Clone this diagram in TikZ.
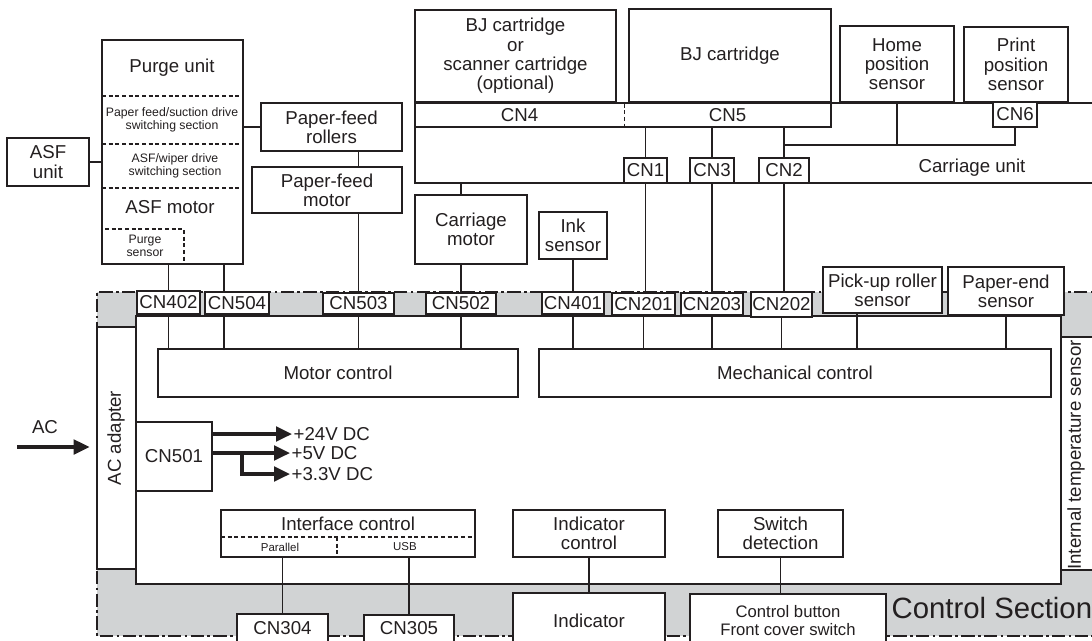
\documentclass[tikz,border=0pt]{standalone}
\usepackage{fontspec}
\setmainfont{Liberation Sans}
\usetikzlibrary{arrows.meta}
\definecolor{ink}{RGB}{35,31,32}
\definecolor{band}{RGB}{209,211,212}
\newcommand\mainf{\fontsize{14}{14.5}\selectfont}
\newcommand\smallf{\fontsize{9.2}{10}\selectfont}
\newcommand\tinyf{\fontsize{8.6}{9}\selectfont}
\newcommand\bigf{\fontsize{22}{24}\selectfont}
\newcommand\btnf{\fontsize{12.5}{13.5}\selectfont}
\newcommand\bx[6][]{\node[box,#1,minimum width={(#4-#2)*0.75pt},minimum height={(#5-#3)*0.75pt}] (#6) at ({(#2+#4)/2},{(#3+#5)/2})}
\tikzset{
  box/.style={draw=ink, line width=1.1pt, fill=white, inner sep=0.5pt, align=center, text=ink, font=\mainf},
  lbl/.style={inner sep=1pt, align=center, text=ink, font=\mainf},
  wire/.style={draw=ink, line width=0.95pt},
  pwr/.style={draw=ink, line width=2.4pt, -{Triangle[length=12pt,width=11pt]}},
  dsh/.style={draw=ink, line width=0.9pt, dash pattern=on 3pt off 2pt},
  frame/.style={draw=ink, line width=1.7pt, dash pattern=on 10pt off 2.5pt on 2pt off 2.5pt},
}
\begin{document}
\begin{tikzpicture}[x=0.75pt,y=-0.75pt]
\useasboundingbox (0,0) rectangle (1092,640);
\clip (0,0) rectangle (1092,640);
% control section frame
\path[fill=band] (97,292) rectangle (1110,636);
\draw[frame] (1110,292) -- (97,292) -- (97,636) -- (1110,636);
\draw[draw=ink, line width=1.8pt, fill=white] (136,316) rectangle (1061,584);
% upper blocks
\bx{7}{138}{89}{186}{asf} {ASF\\unit};
\bx{102}{40}{243}{264}{purge} {};
\node[lbl] (purgelbl) at (172,68) {Purge unit};
\node[lbl,font=\smallf] (pfsw) at (172,120) {Paper feed/suction drive\\switching section};
\node[lbl,font=\smallf] (asfsw) at (175,166) {ASF/wiper drive\\switching section};
\node[lbl] (asfmot) at (170,207) {ASF motor};
\node[lbl,font=\smallf] (purgesens) at (145,246) {Purge\\sensor};
\draw[dsh] (102,96) -- (243,96);
\draw[dsh] (102,144) -- (243,144);
\draw[dsh] (102,188) -- (243,188);
\draw[dsh] (105,229) -- (184,229) -- (184,264);
\bx{261}{103}{402}{151}{rollers} {Paper-feed\\rollers};
\bx{252}{167}{402}{213}{pfmotor} {Paper-feed\\motor};
\bx{415}{103}{1110}{183}{carriage} {};
\node[lbl] (carrlbl) at (972,168) {Carriage unit};
\bx{415}{10}{616}{102}{bjopt} {BJ cartridge\\or\\scanner cartridge\\(optional)};
\bx{629}{9}{831}{102}{bj} {BJ cartridge};
\bx{415}{103}{831}{127}{cnstrip} {};
\bx[draw=none,fill=none]{415}{103}{624}{127}{cn4} {CN4};
\bx[draw=none,fill=none]{624}{103}{831}{127}{cn5} {CN5};
\draw[dsh] ([yshift=-1pt]cn4.north east) -- ([yshift=1pt]cn4.south east);
\bx{840}{26}{954}{102}{home} {Home\\position\\sensor};
\bx{964}{27}{1068}{102}{printpos} {Print\\position\\sensor};
\bx{993}{102}{1037}{127}{cn6} {CN6};
\bx{624}{158}{667}{183}{cn1} {CN1};
\bx{690}{158}{734}{183}{cn3} {CN3};
\bx{759}{158}{809}{183}{cn2} {CN2};
\bx{415}{195}{527}{264}{cmotor} {Carriage\\motor};
\bx{539}{212}{607}{259}{ink} {Ink\\sensor};
% connector row
\bx{137}{291}{200}{314}{cn402} {CN402};
\bx{205}{292}{269}{314}{cn504} {CN504};
\bx{323}{293}{394}{314}{cn503} {CN503};
\bx{426}{293}{496}{314}{cn502} {CN502};
\bx{542}{292}{604}{314}{cn401} {CN401};
\bx{612}{293}{675}{315}{cn201} {CN201};
\bx{681}{293}{743}{315}{cn203} {CN203};
\bx[line width=1.5pt]{751}{292}{812}{317}{cn202} {CN202};
\bx{823}{267}{942}{313}{pickup} {Pick-up roller\\sensor};
\bx{948}{267}{1064}{315}{paperend} {Paper-end\\sensor};
% inside control section
\bx{97}{327}{136}{569}{acadapt} {};
\node[lbl,rotate=90] (acadlbl) at (116,438) {AC adapter};
\bx{1061}{337}{1110}{570}{tempstrip} {};
\node[lbl,rotate=90] (templbl) at (1076,455) {Internal temperature sensor};
\bx{158}{349}{518}{397}{motorctl} {Motor control};
\bx{539}{349}{1051}{397}{mechctl} {Mechanical control};
\bx{136}{422}{212}{491}{cn501} {CN501};
\node[lbl,anchor=west] (v24) at (292,434) {+24V DC};
\node[lbl,anchor=west] (v5) at (290,453) {+5V DC};
\node[lbl,anchor=west] (v33) at (290,474) {+3.3V DC};
\bx{221}{510}{475}{557}{ifctl} {};
\node[lbl] (iflbl) at (348,524) {Interface control};
\node[lbl,font=\tinyf] (par) at (280,547) {Parallel};
\node[lbl,font=\tinyf] (usb) at (405,547) {USB};
\draw[dsh] (221,537) -- (475,537);
\draw[dsh] (337,537) -- (337,557);
\bx{513}{510}{665}{557}{indctl} {Indicator\\control};
\bx{718}{510}{843}{557}{swdet} {Switch\\detection};
\bx{513}{593}{665}{648}{indic} {Indicator};
\bx[font=\btnf]{690}{594}{886}{648}{ctlbtn} {Control button\\Front cover switch};
\bx{237}{614}{328}{642}{cn304} {CN304};
\bx{364}{615}{454}{642}{cn305} {CN305};
\node[lbl,font=\bigf,anchor=west] (ctlsec) at (890,608) {Control Section};
\node[lbl] (aclbl) at (45,427) {AC};
\coordinate (acin) at (17,447);
% connectors
\coordinate (x504) at (224,0);
\coordinate (xpu) at (857,0);
\coordinate (bus) at (0,145);
\coordinate (br) at (242,453);
\draw[wire] (asf.east) -- (asf.east -| purge.west);
\draw[wire] (rollers.west -| purge.east) -- (rollers.west);
\draw[wire] (rollers.south -| cn503) -- (pfmotor.north -| cn503);
\draw[wire] (pfmotor.south -| cn503) -- (cn503.north);
\draw[wire] (purge.south -| cn402) -- (cn402.north);
\draw[wire] (purge.south -| x504) -- (cn504.north -| x504);
\draw[wire] (cn402.south) -- (motorctl.north -| cn402);
\draw[wire] (cn504.south -| x504) -- (motorctl.north -| x504);
\draw[wire] (cn503.south) -- (motorctl.north -| cn503);
\draw[wire] (cn502.south) -- (motorctl.north -| cn502);
\draw[wire] (carriage.south -| cn502) -- (cmotor.north -| cn502);
\draw[wire] (cmotor.south -| cn502) -- (cn502.north);
\draw[wire] (ink.south -| cn401) -- (cn401.north);
\draw[wire] (cnstrip.south -| cn1) -- (cn1.north);
\draw[wire] (cnstrip.south -| cn3) -- (cn3.north);
\draw[wire] (cnstrip.south -| cn2) -- (cn2.north);
\draw[wire] (cn1.south) -- (cn201.north -| cn1);
\draw[wire] (cn3.south) -- (cn203.north -| cn3);
\draw[wire] (cn2.south) -- (cn202.north -| cn2);
\draw[wire] (cn6.south) |- (bus -| cn2);
\draw[wire] (home.south) -- (home.south |- bus);
\draw[wire] (cn401.south) -- (mechctl.north -| cn401);
\draw[wire] (cn201.south) -- (mechctl.north -| cn201);
\draw[wire] (cn203.south) -- (mechctl.north -| cn203);
\draw[wire] (cn202.south) -- (mechctl.north -| cn202);
\draw[wire] (pickup.south -| xpu) -- (mechctl.north -| xpu);
\draw[wire] (paperend.south) -- (mechctl.north -| paperend);
\draw[wire] (ifctl.south -| cn304) -- (cn304.north);
\draw[wire] (ifctl.south -| cn305) -- (cn305.north);
\draw[wire] (indctl.south) -- (indic.north);
\draw[wire] (swdet.south) -- (ctlbtn.north -| swdet);
\draw[pwr] (cn501.east |- v24.west) -- (v24.west);
\draw[pwr] (cn501.east |- v5.west) -- (v5.west);
\draw[pwr] (br) |- (v33.west);
\draw[pwr, shorten >=5pt] (acin) -- (acin -| acadapt.west);
\end{tikzpicture}
\end{document}
